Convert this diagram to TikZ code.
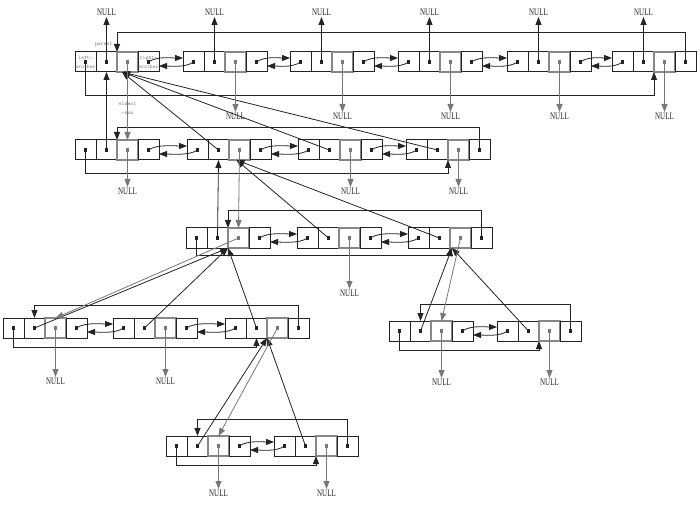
\documentclass[tikz,border=0pt]{standalone}
\usepackage{fontspec}
\newfontfamily\nulltextfont[FakeStretch=0.7]{Liberation Serif}
\usepackage{tikz}
\usetikzlibrary{arrows.meta,positioning}
\definecolor{linecol}{RGB}{35,35,35}
\definecolor{soncol}{RGB}{120,120,120}
\definecolor{sonframe}{RGB}{135,135,135}
\tikzset{
  cell/.style={rectangle,draw=linecol,line width=1bp,minimum width=21bp,minimum height=20bp,inner sep=0pt,outer sep=0pt},
  soncell/.style={cell,draw=sonframe,line width=1.2bp},
  nulltxt/.style={font=\nulltextfont\fontsize{10}{10}\selectfont,inner sep=1bp,text=linecol},
  tinytxt/.style={font=\ttfamily\fontsize{5.5}{9}\selectfont,text=soncol,align=center,inner sep=0pt},
  arr/.style={-{Triangle[length=8bp,width=6bp]},line width=0.8bp,color=linecol},
  sonarr/.style={arr,color=soncol},
  dot/.style={fill=linecol},
  sondot/.style={fill=soncol}
}
\newcommand{\tnode}[3]{%
  \node[cell,anchor=north west] (#1-l) at (#2,#3) {};
  \node[cell,right=0pt of #1-l] (#1-p) {};
  \node[soncell,right=0pt of #1-p] (#1-e) {};
  \node[cell,right=0pt of #1-e] (#1-r) {};
  \foreach \c in {l,p,r}{\fill[dot] ([shift={(-1.8,-1.8)}]#1-\c.center) rectangle ++(3.6,3.6);}
  \fill[sondot] ([shift={(-1.8,-1.8)}]#1-e.center) rectangle ++(3.6,3.6);
}
\newcommand{\sib}[2]{%
  \draw[arr] (#1-r.center) .. controls +(8,-6) and +(-10,0) .. ([yshift=4bp]#2-l.west);
  \draw[arr] (#2-l.center) .. controls +(-8,6) and +(10,0) .. ([yshift=-4bp]#1-r.east);
}

\begin{document}
\begin{tikzpicture}[x=1bp,y=-1bp]
  \useasboundingbox (0,0) rectangle (700,505);

  \tnode{a1}{75}{52} \tnode{a2}{183}{52} \tnode{a3}{290}{52}
  \tnode{a4}{398}{52} \tnode{a5}{507}{52} \tnode{a6}{612}{52}
  \tnode{b1}{75}{140} \tnode{b2}{187}{140} \tnode{b3}{298}{140} \tnode{b4}{406}{140}
  \tnode{c1}{186}{228} \tnode{c2}{297}{228} \tnode{c3}{408}{228}
  \tnode{d1}{3}{318} \tnode{d2}{113}{318} \tnode{d3}{225}{318}
  \tnode{e1}{389}{321} \tnode{e2}{497}{321}
  \tnode{f1}{166}{436} \tnode{f2}{274}{436}

  \node[tinytxt] (lbl-left) at (a1-l.center) {left-\\brother};
  \node[tinytxt] (lbl-right) at (a1-r.center) {right-\\brother};
  \node[tinytxt,above=5bp of a1-p,xshift=-3bp] (lbl-par) {parent};
  \node[tinytxt,below=30bp of a1-e] (lbl-son) {eldest\\-son};

  \sib{a1}{a2} \sib{a2}{a3} \sib{a3}{a4} \sib{a4}{a5} \sib{a5}{a6}
  \sib{b1}{b2} \sib{b2}{b3} \sib{b3}{b4}
  \sib{c1}{c2} \sib{c2}{c3}
  \sib{d1}{d2} \sib{d2}{d3}
  \sib{e1}{e2}
  \sib{f1}{f2}

  \draw[arr] (a6-r.center) -- ++(0,-30) -| (a1-p.north east);
  \draw[arr] (a1-l.center) -- ++(0,33) -| (a6-p.south east);
  \draw[arr] (b4-r.center) -- ++(0,-23) -| (b1-p.north east);
  \draw[arr] (b1-l.center) -- ++(0,23) -| (b4-p.south east);
  \draw[arr] (c3-r.center) -- ++(0,-28) -| (c1-p.north east);
  \draw[arr] (c1-l.center) -- ++(0,17) -| (c3-p.south east);
  \draw[arr] (d3-r.center) -- ++(0,-23) -| (d1-p.north);
  \draw[arr] (d1-l.center) -- ++(0,19) -| (d3-p.south);
  \draw[arr] (e2-r.center) -- ++(0,-27) -| (e1-p.north);
  \draw[arr] (e1-l.center) -- ++(0,19) -| (e2-p.south east);
  \draw[arr] (f2-r.center) -- ++(0,-27) -| (f1-p.north);
  \draw[arr] (f1-l.center) -- ++(0,19) -| (f2-p.south east);

  \draw[arr] (b1-p.center) -- (a1-p.south);
  \foreach \k in {b2,b3,b4} \draw[arr] (\k-p.center) -- ([xshift=5bp]a1-e.south west);
  \draw[sonarr] (a1-e.center) -- (b1-e.north);
  \draw[arr] (c1-p.center) -- (b2-p.south);
  \foreach \k in {c2,c3} \draw[arr] (\k-p.center) -- ([xshift=-3bp]b2-e.south);
  \draw[sonarr] (b2-e.center) -- (c1-e.north);
  \foreach \k in {d1,d2,d3} \draw[arr] (\k-p.center) -- (c1-e.south west);
  \draw[sonarr] (c1-e.center) -- (d1-e.north);
  \foreach \k in {e1,e2} \draw[arr] (\k-p.center) -- ([xshift=2bp]c3-e.south west);
  \draw[sonarr] (c3-e.center) -- (e1-e.north);
  \foreach \k in {f1,f2} \draw[arr] (\k-p.center) -- (d3-e.south west);
  \draw[sonarr] (d3-e.center) -- (f1-e.north);

  \foreach \k in {a1,a2,a3,a4,a5,a6}{
    \node[nulltxt,above=35bp of \k-p] (\k-up) {NULL};
    \draw[arr] (\k-p.center) -- (\k-up.south);
  }
  \foreach \k/\d in {a2/40,a3/40,a4/40,a5/40,a6/40,b1/27,b3/27,b4/27,c2/41,d1/39,d2/39,e1/37,e2/37,f1/33,f2/33}{
    \node[nulltxt,below=\d bp of \k-e] (\k-down) {NULL};
    \draw[sonarr] (\k-e.center) -- (\k-down.north);
  }
\end{tikzpicture}
\end{document}
